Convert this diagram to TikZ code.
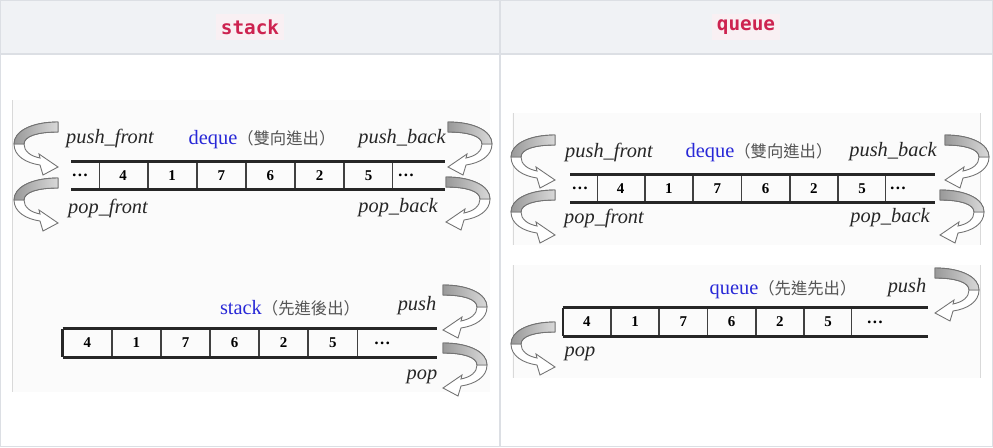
\documentclass[tikz,border=0pt]{standalone}
\usepackage{fontspec}
\setmainfont{Liberation Serif}
\newfontfamily\cjk{Noto Sans CJK TC}
\newfontfamily\codefont{DejaVu Sans Mono}
\usepackage{tikz}
\usetikzlibrary{positioning, calc}
\usepackage{xcolor}
\definecolor{dqblue}{RGB}{40,40,215}
\definecolor{cjkgray}{RGB}{85,85,85}
\definecolor{headbg}{RGB}{240,242,245}
\definecolor{tblline}{RGB}{220,223,228}
\definecolor{codered}{RGB}{205,35,80}
\definecolor{codebg}{RGB}{249,240,243}

\begin{document}
\begin{tikzpicture}[x=0.02cm, y=-0.02cm,
    cell/.style={rectangle, draw=black!75, line width=0.5pt, inner sep=0, minimum height=0.55cm, minimum width=0.965cm, font=\fontsize{8.5}{9}\selectfont\bfseries},
    cellr/.style={cell, minimum width=0.948cm},
    celldots/.style={rectangle, inner sep=0, font=\fontsize{9.5}{10}\selectfont\bfseries},
    rail/.style={line width=1.6pt, black!85},
    lbl/.style={inner sep=0, font=\fontsize{11.6}{12}\selectfont\itshape, text=black!85},
    kindlbl/.style={inner sep=0, font=\fontsize{11.6}{12}\selectfont},
    headlbl/.style={fill=codebg, inner sep=3pt, text=codered, font=\fontsize{11}{12}\codefont\bfseries},
    picframe/.style={fill=black!1.5},
    ribbon/.pic={
        \filldraw[draw=black!55, fill=white, line width=0.5pt]
            (0,0) .. controls (-26,0) and (-44,9) .. (-44,22)
            .. controls (-44,34) and (-32,41) .. (-18,43)
            -- (-15,53) -- (0,45) -- (-19,32) -- (-18,36)
            .. controls (-28,34) and (-34,29) .. (-34,22)
            .. controls (-34,14) and (-20,10) .. (0,10) -- cycle;
        \filldraw[draw=black!55, left color=black!40, right color=black!15, line width=0.5pt]
            (0,0) .. controls (-26,0) and (-44,9) .. (-44,22)
            -- (-34,22) .. controls (-34,14) and (-20,10) .. (0,10) -- cycle;
    }]

    \useasboundingbox (0,0) rectangle (993,447);

    % Table
    \fill[headbg] (0,0) rectangle (993,54);
    \draw[tblline, line width=0.6pt] (0.5,0.5) rectangle (992.5,446.5);
    \draw[tblline, line width=0.6pt] (0,54) -- (993,54);
    \draw[tblline, line width=0.6pt] (500,0) -- (500,447);
    \node[headlbl] (hstack) at (250,27) {stack};
    \node[headlbl] (hqueue) at (746,27) {queue};

    % Picture backgrounds
    \fill[picframe] (12,100) rectangle (490,392);
    \draw[black!15] (12,100) -- (12,392);
    \fill[picframe] (512,113) rectangle (980,245);
    \draw[black!15] (513,113) -- (513,245);
    \draw[black!15] (980,113) -- (980,245);
    \fill[picframe] (512,265) rectangle (980,378);
    \draw[black!15] (513,265) -- (513,378);
    \draw[black!15] (980,265) -- (980,378);

    % Left deque
    \node[cell] (dqa1) at (123.1,175.5) {4};
    \node[cell, right=0 of dqa1] (dqa2) {1};
    \node[cell, right=0 of dqa2] (dqa3) {7};
    \node[cell, right=0 of dqa3] (dqa4) {6};
    \node[cell, right=0 of dqa4] (dqa5) {2};
    \node[cell, right=0 of dqa5] (dqa6) {5};
    \node[celldots, left=0.2cm of dqa1] (dqa0) {…};
    \node[celldots, right=0.08cm of dqa6] (dqa7) {…};
    \coordinate (dqabeg) at (71,175.5);
    \coordinate (dqaend) at (445,175.5);
    \draw[rail] (dqabeg |- dqa1.north) -- (dqaend |- dqa1.north);
    \draw[rail] (dqabeg |- dqa1.south) -- (dqaend |- dqa1.south);
    \node[lbl] (pfa) at (110,138) {push\_front};
    \node[kindlbl] (dqa) at (262,140) {\textcolor{dqblue}{deque}{\cjk\fontsize{9.3}{10}\selectfont\color{cjkgray}（雙向進出）}};
    \node[lbl] (pba) at (402,139) {push\_back};
    \node[lbl] (ofa) at (108,208) {pop\_front};
    \node[lbl] (oba) at (398,208) {pop\_back};
    \pic at (58,122) {ribbon};
    \pic at (58,178) {ribbon};
    \pic[xscale=-1] at (448,122) {ribbon};
    \pic[xscale=-1] at (446,177) {ribbon};

    % Stack
    \node[cell] (stk1) at (87.25,343) {4};
    \node[cell, right=0 of stk1] (stk2) {1};
    \node[cell, right=0 of stk2] (stk3) {7};
    \node[cell, right=0 of stk3] (stk4) {6};
    \node[cell, right=0 of stk4] (stk5) {2};
    \node[cell, right=0 of stk5] (stk6) {5};
    \node[celldots, right=0.32cm of stk6] (stk7) {…};
    \coordinate (stkend) at (437,343);
    \draw[rail] (stk1.north west) -- (stkend |- stk1.north);
    \draw[rail] (stk1.south west) -- (stkend |- stk1.south);
    \draw[rail, line width=2pt] (stk1.north west) -- (stk1.south west);
    \node[kindlbl] (stk) at (290,308) {\textcolor{dqblue}{stack}{\cjk\fontsize{9.3}{10}\selectfont\color{cjkgray}（先進後出）}};
    \node[lbl] (pstk) at (417,306) {push};
    \node[lbl] (ostk) at (422,377) {pop};
    \pic[xscale=-1] at (443,285) {ribbon};
    \pic[xscale=-1] at (443,343) {ribbon};

    % Right deque
    \node[cellr] (dqb1) at (620.7,188.5) {4};
    \node[cellr, right=0 of dqb1] (dqb2) {1};
    \node[cellr, right=0 of dqb2] (dqb3) {7};
    \node[cellr, right=0 of dqb3] (dqb4) {6};
    \node[cellr, right=0 of dqb4] (dqb5) {2};
    \node[cellr, right=0 of dqb5] (dqb6) {5};
    \node[celldots, left=0.16cm of dqb1] (dqb0) {…};
    \node[celldots, right=0.06cm of dqb6] (dqb7) {…};
    \coordinate (dqbbeg) at (570,188.5);
    \coordinate (dqbend) at (935,188.5);
    \draw[rail] (dqbbeg |- dqb1.north) -- (dqbend |- dqb1.north);
    \draw[rail] (dqbbeg |- dqb1.south) -- (dqbend |- dqb1.south);
    \node[lbl] (pfb) at (609,152) {push\_front};
    \node[kindlbl] (dqb) at (759,153) {\textcolor{dqblue}{deque}{\cjk\fontsize{9.3}{10}\selectfont\color{cjkgray}（雙向進出）}};
    \node[lbl] (pbb) at (893,152) {push\_back};
    \node[lbl] (ofb) at (604,218) {pop\_front};
    \node[lbl] (obb) at (890,218) {pop\_back};
    \pic at (555,135) {ribbon};
    \pic at (555,190) {ribbon};
    \pic[xscale=-1] at (945,135) {ribbon};
    \pic[xscale=-1] at (940,190) {ribbon};

    % Queue
    \node[cellr] (que1) at (586.75,322) {4};
    \node[cellr, right=0 of que1] (que2) {1};
    \node[cellr, right=0 of que2] (que3) {7};
    \node[cellr, right=0 of que3] (que4) {6};
    \node[cellr, right=0 of que4] (que5) {2};
    \node[cellr, right=0 of que5] (que6) {5};
    \node[celldots, right=0.28cm of que6] (que7) {…};
    \coordinate (queend) at (928,322);
    \draw[rail] (que1.north west) -- (queend |- que1.north);
    \draw[rail] (que1.south west) -- (queend |- que1.south);
    \draw[rail, line width=1pt] (que1.north west) -- (que1.south west);
    \node[kindlbl] (que) at (783,290) {\textcolor{dqblue}{queue}{\cjk\fontsize{9.3}{10}\selectfont\color{cjkgray}（先進先出）}};
    \node[lbl] (pque) at (907,288) {push};
    \node[lbl] (oque) at (580,354) {pop};
    \pic[xscale=-1] at (935,268) {ribbon};
    \pic at (555,322) {ribbon};

\end{tikzpicture}
\end{document}
